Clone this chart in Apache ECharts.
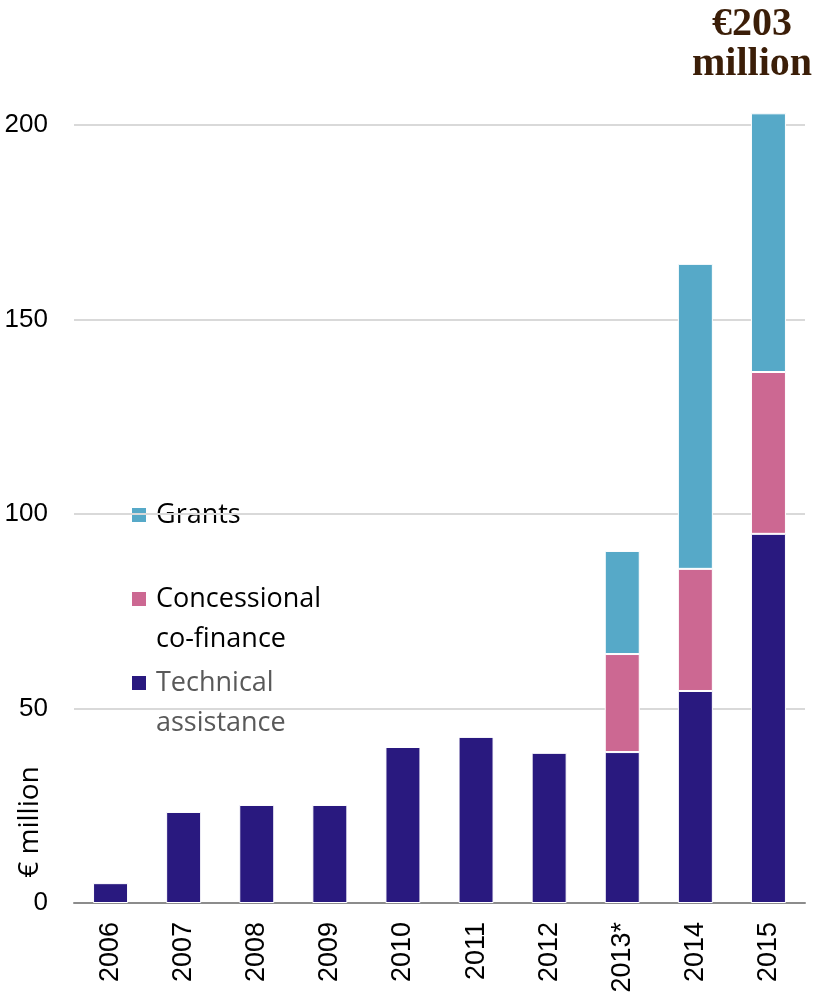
<!DOCTYPE html>
<html>
<head>
<meta charset="utf-8">
<script src="https://cdn.jsdelivr.net/npm/echarts@6/dist/echarts.min.js"></script>
<style>
  html, body { margin: 0; padding: 0; background: #fff; }
  #chart { width: 814px; height: 999px; }
</style>
</head>
<body>
<div id="chart"></div>
<script>
// data (€ million)
const categories = ['2006', '2007', '2008', '2009', '2010', '2011', '2012', '2013*', '2014', '2015']
const technical = [5.1, 23.4, 25.2, 25.2, 40.1, 42.7, 38.6, 38.8, 54.5, 94.9]
const concessional = [null, null, null, null, null, null, null, 25.2, 31.4, 41.6]
const grants = [null, null, null, null, null, null, null, 26.5, 78.4, 66.5]
const yTicks = [0, 50, 100, 150, 200]
const seriesNames = ['Technical\nassistance', 'Concessional\nco-finance', 'Grants']

const colors = {
  technical: '#29197f',
  concessional: '#cc6892',
  grants: '#56a9c8'
}

const last = categories.length - 1
const total = Math.round(technical[last] + concessional[last] + grants[last])

const chart = echarts.init(document.getElementById('chart'))

// build a stacked bar series
const makeBar = (name, data, color) => ({
  name: name,
  type: 'bar',
  stack: 'total',
  data: data,
  barWidth: 35,
  clip: false,
  itemStyle: { color: color, borderColor: '#fff', borderWidth: 1 },
  emphasis: { disabled: true }
})

// hand-made legend, laid out like the original
const legendItems = [
  { name: seriesNames[2], color: colors.grants, y: 515, textColor: '#000' },
  { name: seriesNames[1], color: colors.concessional, y: 599, textColor: '#000' },
  { name: seriesNames[0], color: colors.technical, y: 683, textColor: '#595959' }
]
const legendGraphic = []
legendItems.forEach(item => {
  legendGraphic.push({
    type: 'rect',
    shape: { x: 132, y: item.y - 7, width: 14, height: 14 },
    style: { fill: item.color }
  })
  legendGraphic.push({
    type: 'text',
    x: 156,
    y: item.y,
    style: {
      text: item.name,
      fill: item.textColor,
      font: '27px "Open Sans"',
      lineHeight: 40,
      verticalAlign: 'top',
      y: -20
    }
  })
})

const option = {
  animation: false,
  title: {
    text: '€' + total + '\nmillion',
    left: 747,
    top: 0,
    textAlign: 'center',
    textStyle: {
      fontFamily: 'Liberation Serif',
      fontWeight: 'bold',
      fontSize: 40,
      lineHeight: 40,
      color: '#3b1e08'
    }
  },
  grid: { left: 74, right: 9, top: 125, bottom: 96 },
  xAxis: {
    type: 'category',
    data: categories,
    axisLine: { lineStyle: { color: '#8c8c8c', width: 2 } },
    axisTick: { length: 10, lineStyle: { color: '#8c8c8c', width: 2 } },
    axisLabel: {
      rotate: 90,
      margin: 19,
      color: '#000',
      fontFamily: 'Liberation Sans',
      fontSize: 27
    }
  },
  yAxis: {
    type: 'value',
    min: yTicks[0],
    max: yTicks[yTicks.length - 1],
    interval: 50,
    axisLine: { show: false },
    axisTick: { show: false },
    axisLabel: {
      margin: 26,
      color: '#000',
      fontFamily: 'Liberation Sans',
      fontSize: 26
    },
    splitLine: { lineStyle: { color: '#d9d9d9', width: 2 } }
  },
  graphic: legendGraphic.concat([
    {
      type: 'text',
      x: 30,
      y: 822,
      rotation: Math.PI / 2,
      style: {
        text: '€ million',
        fill: '#000',
        font: '28px "Open Sans"',
        align: 'center',
        verticalAlign: 'middle'
      }
    }
  ]),
  series: [
    makeBar(seriesNames[0], technical, colors.technical),
    makeBar(seriesNames[1], concessional, colors.concessional),
    makeBar(seriesNames[2], grants, colors.grants)
  ]
}

chart.setOption(option)
</script>
</body>
</html>
